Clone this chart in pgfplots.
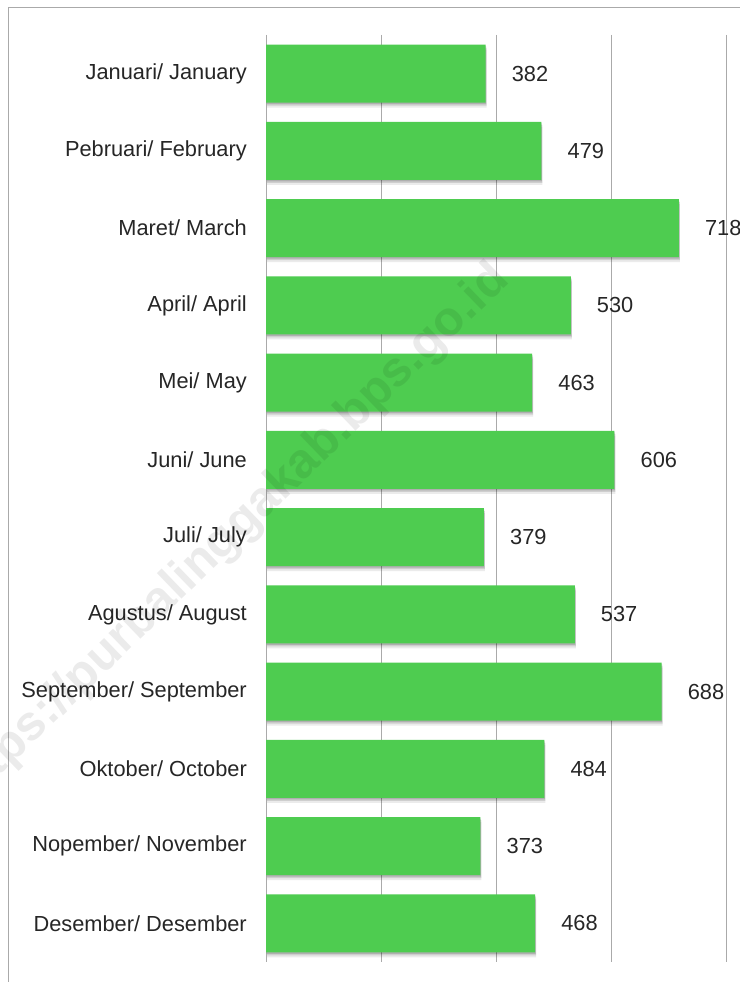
\documentclass[border=0pt]{standalone}
\usepackage{pgfplots}
\pgfplotsset{compat=1.18}
\usepackage{fontspec}
\setmainfont{Liberation Sans}
\usetikzlibrary{shadows}
\definecolor{barg}{RGB}{78,204,80}
\definecolor{txt}{RGB}{38,38,38}
\definecolor{gridc}{RGB}{170,170,170}
\begin{document}
\begin{tikzpicture}[x=1bp,y=1bp]
\useasboundingbox (0,0) rectangle (740,982);
\clip (0,0) rectangle (740,982);
\fill[white] (0,0) rectangle (740,982);
\draw[gridc, line width=1bp] (8,-10) -- (8,974) -- (760,974);
\begin{axis}[
  at={(266bp,20bp)}, anchor=south west, scale only axis,
  width=460bp, height=927bp,
  xmin=0, xmax=800, ymin=-0.5, ymax=11.5, y dir=reverse,
  xbar, bar width=58bp,
  xtick={0,200,400,600,800}, xticklabels={},
  xmajorgrids, grid style={gridc, line width=0.9bp},
  major tick length=0pt,
  axis line style={draw=none},
  ytick={0,...,11},
  yticklabels={Januari/ January, Pebruari/ February, Maret/ March, April/ April, Mei/ May, Juni/ June, Juli/ July, Agustus/ August, September/ September, Oktober/ October, Nopember/ November, Desember/ Desember},
  yticklabel style={font=\fontsize{21.8bp}{26bp}\selectfont, text=txt, inner sep=0pt, xshift=-19bp},
  nodes near coords,
  nodes near coords style={font=\fontsize{21.8bp}{26bp}\selectfont, text=txt, anchor=west, inner sep=0pt, xshift=26bp},
  point meta=explicit symbolic,
  clip=false,
]
\addplot[fill=barg, draw=none,
  preaction={fill=black, opacity=0.08, transform canvas={xshift=1bp, yshift=-5bp}},
  preaction={fill=black, opacity=0.12, transform canvas={xshift=1bp, yshift=-3bp}},
  preaction={fill=black, opacity=0.15, transform canvas={xshift=0.5bp, yshift=-1.5bp}}]
  table[meta=v] {
x y v
382 0 382
479 1 479
718 2 718
530 3 530
463 4 463
606 5 606
379 6 379
537 7 537
688 8 688
484 9 484
373 10 373
468 11 468
};
\end{axis}
\node[rotate=44, anchor=base west, font=\bfseries\fontsize{49bp}{55bp}\selectfont, text=black, opacity=0.08, inner sep=0pt] at (-36,172) {https://purbalinggakab.bps.go.id};
\end{tikzpicture}
\end{document}
